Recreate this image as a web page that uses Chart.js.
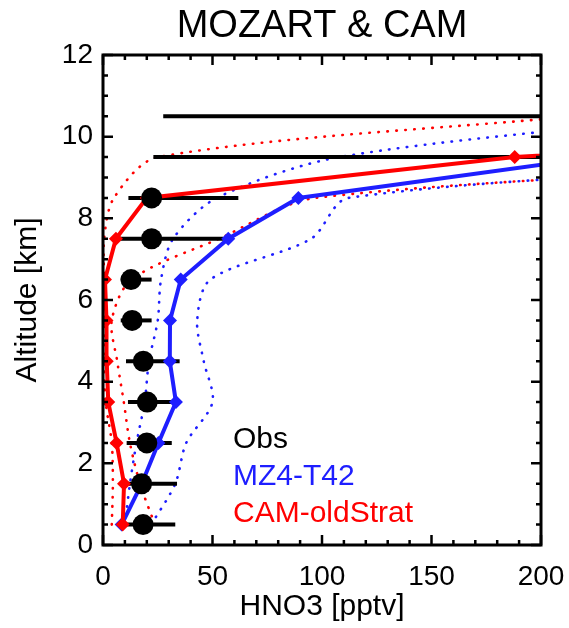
<!DOCTYPE html>
<html>
<head>
<meta charset="utf-8">
<script src="https://cdn.jsdelivr.net/npm/chart.js@4.4.0/dist/chart.umd.min.js"></script>
<style>
    html, body { margin: 0; padding: 0; background: #fff; }
</style>
</head>
<body>
<canvas id="chart" width="569" height="628"></canvas>
<script>
// altitude levels [km]
const altitudes = [0.5, 1.5, 2.5, 3.5, 4.5, 5.5, 6.5, 7.5, 8.5, 9.5, 10.5];

// observations (top two levels are off scale)
const obsValues = [18.3, 17.6, 20, 20.2, 18.4, 13.3, 12.8, 22.2, 22.2, 300, 320];
const obsLow = [11, 7.8, 10.8, 11.4, 10.5, 8.1, 8.1, 7.8, 11.6, 23, 27.5];
const obsHigh = [33, 33.8, 31.4, 32.9, 35, 22.2, 22.2, 54.9, 61.8, 600, 600];

// MZ4-T42
const mz4Values = [8.5, 17.7, 25.3, 33.3, 30.5, 30.6, 35.5, 57.2, 89.2, 226, 480];
const mz4Min = [10, 12.3, 15.3, 19, 21, 25, 26.5, 32, 52, 108, 270];
const mz4Max = [22, 33, 38, 50, 46, 43, 49, 95, 112, 360, 500];

// CAM-oldStrat
const camValues = [9, 9.6, 6.2, 2.4, 1.7, 1.6, 0.9, 5.9, 20, 188, 480];
const camMin = [4, 4.5, 4, 1.2, 0.5, 0.5, 0.5, 0.5, 5, 25, 215];
const camMax = [23.7, 16.9, 12.3, 9.5, 6.5, 4, 13, 53, 97, 375, 520];

const xTicks = { min: 0, max: 200, major: 50, minor: 10 };
const yTicks = { min: 0, max: 12, major: 2, minor: 0.5 };

const chartTitle = "MOZART & CAM";

const RED = "#ff0000";
const BLUE = "#1e1eff";

const legendItems = [
    { text: "Obs", color: "#000000" },
    { text: "MZ4-T42", color: BLUE },
    { text: "CAM-oldStrat", color: RED }
];

function pairs(values) {
    return values.map((v, i) => ({ x: v, y: altitudes[i] }));
}

function dotted(values, color) {
    return {
        data: pairs(values),
        showLine: true,
        borderColor: color,
        borderWidth: 2.6,
        borderDash: [0.5, 8.5],
        borderCapStyle: "round",
        tension: 0.3,
        pointRadius: 0,
        order: 4
    };
}

const datasets = [];

datasets.push(dotted(camMin, RED), dotted(camMax, RED), dotted(mz4Min, BLUE), dotted(mz4Max, BLUE));

altitudes.forEach((alt, i) => {
    datasets.push({
        data: [{ x: obsLow[i], y: alt }, { x: obsHigh[i], y: alt }],
        showLine: true,
        borderColor: "#000",
        borderWidth: 4,
        pointRadius: 0,
        order: 3
    });
});

datasets.push({
    label: "MZ4-T42",
    data: pairs(mz4Values),
    showLine: true,
    borderColor: BLUE,
    backgroundColor: BLUE,
    borderWidth: 4,
    pointStyle: "rectRot",
    pointRadius: 7,
    pointBorderWidth: 0,
    order: 2
});

datasets.push({
    label: "CAM-oldStrat",
    data: pairs(camValues),
    showLine: true,
    borderColor: RED,
    backgroundColor: RED,
    borderWidth: 4,
    pointStyle: "rectRot",
    pointRadius: 7,
    pointBorderWidth: 0,
    order: 1
});

datasets.push({
    label: "Obs",
    data: pairs(obsValues),
    showLine: false,
    backgroundColor: "#000",
    borderWidth: 0,
    pointStyle: "circle",
    pointRadius: 10.5,
    order: 0
});

// box, inward ticks on all four sides, title over the plot box and the text legend
const frameTicks = {
    id: "frameTicks",
    afterDatasetsDraw(chart) {
        const { ctx, chartArea: a, scales: { x, y } } = chart;
        ctx.save();
        ctx.strokeStyle = "#000";
        ctx.lineWidth = 2.5;
        ctx.beginPath();
        for (let v = xTicks.min; v <= xTicks.max + 1e-6; v += xTicks.minor) {
            const px = x.getPixelForValue(v);
            const len = Math.abs(v / xTicks.major - Math.round(v / xTicks.major)) < 1e-6 ? 10 : 5;
            ctx.moveTo(px, a.bottom); ctx.lineTo(px, a.bottom - len);
            ctx.moveTo(px, a.top); ctx.lineTo(px, a.top + len);
        }
        for (let v = yTicks.min; v <= yTicks.max + 1e-6; v += yTicks.minor) {
            const py = y.getPixelForValue(v);
            const len = Math.abs(v / yTicks.major - Math.round(v / yTicks.major)) < 1e-6 ? 10 : 5;
            ctx.moveTo(a.left, py); ctx.lineTo(a.left + len, py);
            ctx.moveTo(a.right, py); ctx.lineTo(a.right - len, py);
        }
        ctx.stroke();
        ctx.lineWidth = 3;
        ctx.strokeRect(a.left, a.top, a.right - a.left, a.bottom - a.top);

        ctx.fillStyle = "#000";
        ctx.font = '38px "Liberation Sans", Arial, sans-serif';
        ctx.textAlign = "center";
        ctx.textBaseline = "middle";
        ctx.fillText(chartTitle, (a.left + a.right) / 2, 27);

        ctx.font = '30px "Liberation Sans", Arial, sans-serif';
        ctx.textAlign = "left";
        legendItems.forEach((item, i) => {
            ctx.fillStyle = item.color;
            ctx.fillText(item.text, a.left + 130, a.bottom - 105 + i * 37);
        });
        ctx.restore();
    }
};

Chart.defaults.font.family = '"Liberation Sans", Arial, sans-serif';
Chart.defaults.color = "#000";

new Chart(document.getElementById("chart"), {
    type: "scatter",
    data: { datasets: datasets },
    options: {
        responsive: false,
        devicePixelRatio: 1,
        animation: false,
        events: [],
        layout: { autoPadding: false, padding: { left: 0, right: 28, top: 55, bottom: 0 } },
        plugins: {
            legend: { display: false },
            tooltip: { enabled: false },
            title: { display: false }
        },
        scales: {
            x: {
                type: "linear",
                min: xTicks.min,
                max: xTicks.max,
                ticks: { stepSize: xTicks.major, padding: 4, color: "#000", font: { size: 28, lineHeight: 2.0 }, maxRotation: 0, autoSkip: false },
                grid: { display: false, drawTicks: false },
                border: { display: false },
                title: { display: true, text: "HNO3 [pptv]", color: "#000", font: { size: 30 }, padding: { top: 0, bottom: 3 } },
                afterFit(scale) { scale.height = 83; }
            },
            y: {
                type: "linear",
                min: yTicks.min,
                max: yTicks.max,
                ticks: { stepSize: yTicks.major, padding: 10, color: "#000", font: { size: 28 }, autoSkip: false },
                grid: { display: false, drawTicks: false },
                border: { display: false },
                title: { display: true, text: "Altitude [km]", color: "#000", font: { size: 30 }, padding: { top: 10, bottom: 0 } },
                afterFit(scale) { scale.width = 103; }
            }
        }
    },
    plugins: [frameTicks]
});
</script>
</body>
</html>
